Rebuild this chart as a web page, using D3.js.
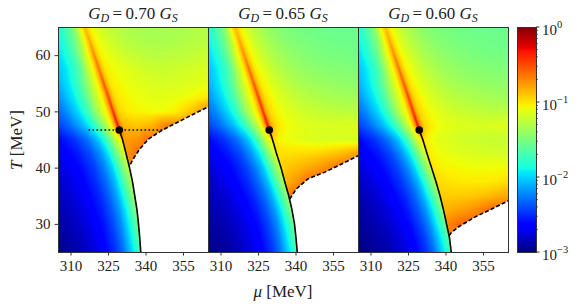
<!DOCTYPE html>
<html><head><meta charset="utf-8">
<script src="https://cdn.jsdelivr.net/npm/d3@7"></script>
<style>body{margin:0;background:#fff} svg{display:block}</style>
</head><body>
<svg id="c" width="580" height="308"></svg>
<script>
// ---------------- DATA ----------------
const panelTitles = ["0.70", "0.65", "0.60"];
const muTicks = [310, 325, 340, 355];
const tTicks = [30, 40, 50, 60];
const cbarExponents = [0, -1, -2, -3];

// critical end point (mu, T) per panel
const cepPoints = [[329.5, 46.7], [329.5, 46.7], [329.5, 46.7]];
// crossover (ridge) line above the CEP, shared (mu, T)
const crossoverLine = [[329.5, 46.7], [328.9, 47.5], [327.0, 50], [325.2, 52.5], [323.3, 55], [321.4, 57.5], [319.5, 60], [317.7, 62.5], [315.8, 65]];
// first-order line (solid) per panel (mu, T)
const firstOrder1 = [[329.5, 46.7], [330.8, 45], [332.2, 42.5], [333.6, 40], [334.8, 37.5], [335.7, 35], [336.6, 32.5], [337.2, 30], [337.7, 27.5], [338.1, 25]];
const firstOrder2 = [[329.5, 46.7], [330.8, 45], [332.4, 42.5], [334.2, 40], [335.7, 37.5], [337.3, 35], [338.6, 32.5], [339.6, 30], [340.2, 27.5], [340.7, 25]];
const firstOrder3 = [[329.5, 46.7], [330.9, 45], [332.6, 42.5], [334.4, 40], [336.2, 37.5], [337.8, 35], [339.2, 32.5], [340.4, 30], [341.6, 27.5], [342.3, 25]];
// spinodal (dashed) per panel (mu, T)
const spinodal1 = [[334.0, 40.6], [335.0, 41.5], [337.7, 43.3], [341.0, 45.0], [345.0, 46.2], [349.0, 47.2], [358.3, 49.3], [365.0, 50.8]];
const spinodal2 = [[337.7, 34.4], [339.0, 35.3], [340.3, 36.2], [345.0, 38.0], [351.7, 39.2], [358.3, 40.6], [365.0, 42.1]];
const spinodal3 = [[341.4, 27.9], [342.5, 28.5], [345.0, 29.4], [351.7, 31.2], [358.3, 32.6], [365.0, 34.1]];
// dotted horizontal guide in the first panel (mu, T)
const dottedGuide1 = [[317.2, 46.7], [347.5, 46.7]];

// heat map: log10 of the plotted quantity, sampled on rows of T and
// columns of mu measured from the transition line (solid / crossover)
const gridT = [25, 27.5, 30, 32.5, 35, 37.5, 40, 42.5, 45, 47.5, 50, 52.5, 55, 57.5, 60, 62.5, 65];
const leftOffsets = [-40, -32, -25, -19, -14, -10, -7, -4.5, -2.5, -1, 0];
const rightOffsets = [0, 1, 2.5, 4.5, 7, 10, 14, 19, 25, 32, 40, 50];
const leftLog = [
  [-3.0, -2.95, -2.88, -2.77, -2.64, -2.48, -2.3, -2.08, -1.9, -1.77, -1.7],
  [-2.99, -2.93, -2.86, -2.74, -2.61, -2.44, -2.26, -2.03, -1.84, -1.7, -1.63],
  [-2.97, -2.91, -2.83, -2.71, -2.58, -2.4, -2.22, -1.98, -1.78, -1.62, -1.54],
  [-2.95, -2.89, -2.8, -2.68, -2.54, -2.36, -2.17, -1.93, -1.71, -1.54, -1.45],
  [-2.93, -2.87, -2.77, -2.65, -2.51, -2.32, -2.12, -1.87, -1.64, -1.46, -1.38],
  [-2.91, -2.84, -2.74, -2.62, -2.47, -2.28, -2.07, -1.8, -1.57, -1.39, -1.3],
  [-2.88, -2.8, -2.71, -2.59, -2.44, -2.24, -2.02, -1.73, -1.49, -1.31, -1.22],
  [-2.85, -2.76, -2.67, -2.55, -2.39, -2.18, -1.94, -1.64, -1.39, -1.2, -1.12],
  [-2.81, -2.71, -2.61, -2.47, -2.29, -2.06, -1.8, -1.5, -1.22, -1.05, -0.95],
  [-2.75, -2.62, -2.48, -2.3, -2.08, -1.83, -1.56, -1.3, -1.05, -0.75, -0.3],
  [-2.7, -2.56, -2.4, -2.22, -1.98, -1.72, -1.42, -1.2, -1.02, -0.78, -0.4],
  [-2.65, -2.5, -2.34, -2.16, -1.94, -1.7, -1.42, -1.2, -1.03, -0.8, -0.47],
  [-2.6, -2.45, -2.3, -2.14, -1.94, -1.72, -1.46, -1.22, -1.05, -0.83, -0.55],
  [-2.6, -2.45, -2.3, -2.14, -1.98, -1.8, -1.58, -1.26, -1.07, -0.86, -0.62],
  [-2.55, -2.42, -2.28, -2.12, -1.97, -1.8, -1.6, -1.32, -1.09, -0.9, -0.7],
  [-2.5, -2.4, -2.26, -2.1, -1.96, -1.8, -1.62, -1.42, -1.13, -0.94, -0.8],
  [-2.45, -2.38, -2.24, -2.08, -1.94, -1.8, -1.64, -1.47, -1.17, -0.97, -0.88]
];
const N = null;
const rightLog1 = [
  [N, N, N, N, N, N, N, N, N, N, N, N],
  [N, N, N, N, N, N, N, N, N, N, N, N],
  [N, N, N, N, N, N, N, N, N, N, N, N],
  [N, N, N, N, N, N, N, N, N, N, N, N],
  [N, N, N, N, N, N, N, N, N, N, N, N],
  [N, N, N, N, N, N, N, N, N, N, N, N],
  [N, N, N, N, N, N, N, N, N, N, N, N],
  [-0.75, -0.72, -0.68, -0.62, N, N, N, N, N, N, N, N],
  [-0.8, -0.78, -0.77, -0.75, -0.72, -0.62, N, N, N, N, N, N],
  [-0.3, -0.72, -0.86, -0.88, -0.9, -0.88, -0.84, -0.68, N, N, N, N],
  [-0.4, -0.78, -0.95, -1.0, -1.03, -1.05, -1.07, -1.08, -1.04, -0.88, -0.65, -0.62],
  [-0.47, -0.8, -0.97, -1.02, -1.05, -1.08, -1.1, -1.12, -1.12, -1.08, -1.0, -0.95],
  [-0.55, -0.83, -0.99, -1.04, -1.07, -1.1, -1.13, -1.16, -1.17, -1.16, -1.12, -1.1],
  [-0.62, -0.86, -1.01, -1.05, -1.09, -1.12, -1.16, -1.2, -1.22, -1.2, -1.17, -1.15],
  [-0.7, -0.9, -1.03, -1.08, -1.13, -1.17, -1.22, -1.26, -1.28, -1.27, -1.24, -1.2],
  [-0.8, -0.94, -1.05, -1.11, -1.17, -1.22, -1.27, -1.31, -1.33, -1.33, -1.3, -1.27],
  [-0.88, -0.97, -1.07, -1.14, -1.2, -1.26, -1.3, -1.34, -1.36, -1.36, -1.33, -1.3]
];
const rightLog2 = [
  [N, N, N, N, N, N, N, N, N, N, N, N],
  [N, N, N, N, N, N, N, N, N, N, N, N],
  [N, N, N, N, N, N, N, N, N, N, N, N],
  [N, N, N, N, N, N, N, N, N, N, N, N],
  [-0.68, -0.64, -0.6, N, N, N, N, N, N, N, N, N],
  [-0.85, -0.83, -0.8, -0.75, -0.69, -0.6, N, N, N, N, N, N],
  [-0.95, -0.93, -0.9, -0.88, -0.86, -0.82, -0.77, -0.7, -0.6, N, N, N],
  [-1.0, -0.99, -0.98, -0.98, -0.98, -0.97, -0.96, -0.93, -0.88, -0.78, -0.64, -0.62],
  [-0.95, -1.0, -1.05, -1.08, -1.1, -1.12, -1.14, -1.16, -1.17, -1.17, -1.16, -1.14],
  [-0.3, -0.72, -0.92, -1.0, -1.06, -1.1, -1.13, -1.15, -1.16, -1.15, -1.13, -1.1],
  [-0.4, -0.78, -0.95, -1.02, -1.09, -1.13, -1.18, -1.22, -1.25, -1.27, -1.28, -1.28],
  [-0.47, -0.8, -0.97, -1.04, -1.11, -1.17, -1.23, -1.28, -1.32, -1.35, -1.37, -1.38],
  [-0.55, -0.83, -0.99, -1.06, -1.14, -1.21, -1.28, -1.34, -1.38, -1.41, -1.43, -1.44],
  [-0.62, -0.86, -1.01, -1.09, -1.17, -1.25, -1.32, -1.38, -1.43, -1.46, -1.48, -1.49],
  [-0.7, -0.9, -1.03, -1.12, -1.2, -1.28, -1.36, -1.42, -1.47, -1.5, -1.52, -1.53],
  [-0.8, -0.94, -1.05, -1.15, -1.24, -1.32, -1.4, -1.46, -1.5, -1.53, -1.55, -1.55],
  [-0.88, -0.97, -1.07, -1.18, -1.27, -1.35, -1.43, -1.49, -1.53, -1.55, -1.56, -1.56]
];
const rightLog3 = [
  [N, N, N, N, N, N, N, N, N, N, N, N],
  [N, N, N, N, N, N, N, N, N, N, N, N],
  [-0.7, -0.68, -0.66, -0.62, -0.58, N, N, N, N, N, N, N],
  [-0.85, -0.84, -0.82, -0.8, -0.78, -0.75, -0.7, -0.6, N, N, N, N],
  [-0.92, -0.92, -0.92, -0.92, -0.92, -0.91, -0.9, -0.87, -0.82, -0.72, -0.62, -0.62],
  [-0.96, -0.97, -0.98, -0.99, -1.0, -1.01, -1.02, -1.02, -1.0, -0.96, -0.92, -0.9],
  [-0.98, -1.0, -1.02, -1.04, -1.05, -1.06, -1.07, -1.08, -1.08, -1.07, -1.05, -1.03],
  [-1.0, -1.02, -1.05, -1.08, -1.1, -1.12, -1.14, -1.16, -1.17, -1.18, -1.18, -1.18],
  [-0.96, -1.01, -1.06, -1.1, -1.13, -1.15, -1.18, -1.2, -1.22, -1.23, -1.23, -1.22],
  [-0.3, -0.72, -0.92, -1.0, -1.06, -1.1, -1.13, -1.15, -1.16, -1.15, -1.13, -1.1],
  [-0.4, -0.78, -0.95, -1.02, -1.09, -1.13, -1.18, -1.22, -1.25, -1.27, -1.28, -1.28],
  [-0.47, -0.8, -0.97, -1.04, -1.11, -1.17, -1.23, -1.28, -1.32, -1.35, -1.37, -1.38],
  [-0.55, -0.83, -0.99, -1.06, -1.14, -1.21, -1.28, -1.34, -1.38, -1.41, -1.43, -1.44],
  [-0.62, -0.86, -1.01, -1.09, -1.17, -1.25, -1.32, -1.38, -1.43, -1.46, -1.48, -1.49],
  [-0.7, -0.9, -1.03, -1.12, -1.2, -1.28, -1.36, -1.42, -1.47, -1.5, -1.52, -1.53],
  [-0.8, -0.94, -1.05, -1.15, -1.24, -1.32, -1.4, -1.46, -1.5, -1.53, -1.55, -1.55],
  [-0.88, -0.97, -1.07, -1.18, -1.27, -1.35, -1.43, -1.49, -1.53, -1.55, -1.56, -1.56]
];

// ---------------- LAYOUT ----------------
const panelLeft = [58, 208, 358], panelTop = 27, panelW = 150, panelH = 225;
const cbar = {x: 517, w: 19};
const FONT = "'Liberation Serif', 'DejaVu Serif', serif";

const x = d3.scaleLinear().domain([305, 365]).range([0, panelW]);
const y = d3.scaleLinear().domain([25, 65]).range([panelH, 0]);

// matplotlib "jet"
const jr = d3.scaleLinear().domain([0, .35, .66, .89, 1]).range([0, 0, 1, 1, .5]).clamp(true);
const jg = d3.scaleLinear().domain([0, .125, .375, .64, .91, 1]).range([0, 0, 1, 1, 0, 0]).clamp(true);
const jb = d3.scaleLinear().domain([0, .11, .34, .65, 1]).range([.5, 1, 1, 0, 0]).clamp(true);
const jet = t => d3.rgb(255 * jr(t), 255 * jg(t), 255 * jb(t)).toString();
const color = d3.scaleSequentialLog(jet).domain([1e-3, 1]).clamp(true);
const tOf = d3.scaleLog().domain([1e-3, 1]).range([0, 1]).clamp(true);

const svg = d3.select("#c");

function fillGrid(grid) {
  // cells without data (white region) borrow the nearest value of their row / the row above
  const out = grid.map(r => r.slice());
  for (let j = out.length - 1; j >= 0; j--) {
    let last = null;
    for (let k = 0; k < out[j].length; k++) {
      if (out[j][k] === null) out[j][k] = last; else last = out[j][k];
    }
    for (let k = 0; k < out[j].length; k++) {
      if (out[j][k] === null) out[j][k] = out[j + 1][k];
    }
  }
  return out;
}
function locate(arr, v) {
  let i = d3.bisectRight(arr, v) - 1;
  i = Math.max(0, Math.min(arr.length - 2, i));
  const f = Math.max(0, Math.min(1, (v - arr[i]) / (arr[i + 1] - arr[i])));
  return [i, f];
}
function sample(grid, offs, T, u) {
  const [j, ft] = locate(gridT, T);
  const [k, fu] = locate(offs, u);
  const a = grid[j][k] + (grid[j][k + 1] - grid[j][k]) * fu;
  const b = grid[j + 1][k] + (grid[j + 1][k + 1] - grid[j + 1][k]) * fu;
  return a + (b - a) * ft;
}

const panels = [
  {title: panelTitles[0], line: firstOrder1, spin: spinodal1, right: rightLog1, cep: cepPoints[0], dotted: dottedGuide1},
  {title: panelTitles[1], line: firstOrder2, spin: spinodal2, right: rightLog2, cep: cepPoints[1], dotted: null},
  {title: panelTitles[2], line: firstOrder3, spin: spinodal3, right: rightLog3, cep: cepPoints[2], dotted: null}
];

const defs = svg.append("defs");
defs.append("clipPath").attr("id", "pclip").append("rect").attr("width", panelW).attr("height", panelH);

const lineGen = d3.line().x(d => x(d[0])).y(d => y(d[1]));

panels.forEach((p, i) => {
  const g = svg.append("g").attr("transform", `translate(${panelLeft[i]},${panelTop})`);
  const refPts = p.line.slice().reverse().concat(crossoverLine.slice(1));
  const refMu = d3.scaleLinear().domain(refPts.map(d => d[1])).range(refPts.map(d => d[0]));
  const rightFilled = fillGrid(p.right);

  const cv = document.createElement("canvas");
  cv.width = panelW; cv.height = panelH;
  const ctx = cv.getContext("2d");
  const img = ctx.createImageData(panelW, panelH);
  for (let py = 0; py < panelH; py++) {
    const T = y.invert(py + 0.5);
    const r0 = refMu(T);
    for (let px = 0; px < panelW; px++) {
      const mu = x.invert(px + 0.5);
      const u = mu - r0;
      const lv = u < 0 ? sample(leftLog, leftOffsets, T, u) : sample(rightFilled, rightOffsets, T, u);
      const t = tOf(Math.pow(10, lv));
      const idx = 4 * (py * panelW + px);
      img.data[idx] = Math.round(255 * jr(t));
      img.data[idx + 1] = Math.round(255 * jg(t));
      img.data[idx + 2] = Math.round(255 * jb(t));
      img.data[idx + 3] = 255;
    }
  }
  ctx.putImageData(img, 0, 0);
  g.append("image").attr("href", cv.toDataURL()).attr("width", panelW).attr("height", panelH)
    .attr("preserveAspectRatio", "none");

  const inner = g.append("g").attr("clip-path", "url(#pclip)");
  const junction = p.spin[0];
  const below = [junction].concat(p.line.filter(d => d[1] < junction[1]));
  const lastSp = p.spin[p.spin.length - 1];
  const poly = below.concat([[below[below.length - 1][0], 20], [370, 20], [370, lastSp[1]]]).concat(p.spin.slice().reverse());
  inner.append("path").attr("d", lineGen(poly) + "Z").attr("fill", "#fff");

  inner.append("path").attr("d", lineGen(p.line)).attr("fill", "none").attr("stroke", "#000").attr("stroke-width", 1.6);
  inner.append("path").attr("d", lineGen(p.spin)).attr("fill", "none").attr("stroke", "#000").attr("stroke-width", 1.6)
    .attr("stroke-dasharray", "4,2.2");
  if (p.dotted) {
    inner.append("path").attr("d", lineGen(p.dotted)).attr("fill", "none").attr("stroke", "#000").attr("stroke-width", 1.6)
      .attr("stroke-dasharray", "1.6,2.4");
  }
  inner.append("circle").attr("cx", x(p.cep[0])).attr("cy", y(p.cep[1])).attr("r", 3.8).attr("fill", "#000");

  g.append("rect").attr("x", 0).attr("y", 0).attr("width", panelW).attr("height", panelH)
    .attr("fill", "none").attr("stroke", "#333").attr("stroke-width", 1).attr("shape-rendering", "crispEdges");

  const ax = g.append("g").attr("transform", `translate(0,${panelH})`)
    .call(d3.axisBottom(x).tickValues(muTicks).tickSize(3.5).tickPadding(5).tickFormat(d3.format("d")));
  ax.select(".domain").remove();
  ax.selectAll("line").attr("stroke", "#333");
  ax.selectAll("text").attr("font-family", FONT).attr("font-size", 15).attr("fill", "#222");

  if (i === 0) {
    const ay = g.append("g").call(d3.axisLeft(y).tickValues(tTicks).tickSize(3.5).tickPadding(4).tickFormat(d3.format("d")));
    ay.select(".domain").remove();
    ay.selectAll("line").attr("stroke", "#333");
    ay.selectAll("text").attr("font-family", FONT).attr("font-size", 15).attr("fill", "#222");
  }

  const tt = svg.append("text").attr("x", panelLeft[i] + panelW / 2).attr("y", 19)
    .attr("text-anchor", "middle").attr("font-family", FONT).attr("font-size", 17).attr("fill", "#222");
  tt.append("tspan").attr("font-style", "italic").text("G");
  tt.append("tspan").attr("font-style", "italic").attr("font-size", 12).attr("dy", 3).text("D");
  tt.append("tspan").attr("dy", -3).text("\u2009=\u2009" + p.title + "\u00a0");
  tt.append("tspan").attr("font-style", "italic").text("G");
  tt.append("tspan").attr("font-style", "italic").attr("font-size", 12).attr("dy", 3).text("S");
});

const yl = svg.append("text").attr("transform", "translate(22,140) rotate(-90)").attr("text-anchor", "middle")
  .attr("font-family", FONT).attr("font-size", 17).attr("fill", "#222");
yl.append("tspan").attr("font-style", "italic").text("T");
yl.append("tspan").text(" [MeV]");
const xl = svg.append("text").attr("x", 283).attr("y", 297).attr("text-anchor", "middle")
  .attr("font-family", FONT).attr("font-size", 17).attr("fill", "#222");
xl.append("tspan").attr("font-style", "italic").text("\u03bc");
xl.append("tspan").text(" [MeV]");

// colorbar
const cy = d3.scaleLog().domain([1e-3, 1]).range([panelTop + panelH, panelTop]);
const cg = svg.append("g");
const steps = d3.range(0, panelH);
cg.selectAll("rect.s").data(steps).join("rect").attr("class", "s")
  .attr("x", cbar.x).attr("width", cbar.w)
  .attr("y", d => panelTop + d).attr("height", 1.2)
  .attr("fill", d => color(cy.invert(panelTop + d + 0.5)));
cg.append("rect").attr("x", cbar.x).attr("y", panelTop).attr("width", cbar.w).attr("height", panelH)
  .attr("fill", "none").attr("stroke", "#333").attr("shape-rendering", "crispEdges");
const minor = [];
[-3, -2, -1].forEach(e => { for (let k = 2; k <= 9; k++) minor.push(k * Math.pow(10, e)); });
cg.selectAll("line.mi").data(minor).join("line").attr("class", "mi")
  .attr("x1", cbar.x + cbar.w).attr("x2", cbar.x + cbar.w + 2)
  .attr("y1", d => cy(d)).attr("y2", d => cy(d)).attr("stroke", "#333").attr("stroke-width", 0.7);
cg.selectAll("line.ma").data(cbarExponents).join("line").attr("class", "ma")
  .attr("x1", cbar.x + cbar.w).attr("x2", cbar.x + cbar.w + 3.5)
  .attr("y1", d => cy(Math.pow(10, d))).attr("y2", d => cy(Math.pow(10, d))).attr("stroke", "#333");
cbarExponents.forEach(e => {
  const t = cg.append("text").attr("x", cbar.x + cbar.w + 6).attr("y", cy(Math.pow(10, e)) + 8)
    .attr("font-family", FONT).attr("font-size", 15).attr("fill", "#222");
  t.append("tspan").text("10");
  t.append("tspan").attr("font-size", 10.5).attr("dy", -7).text(e === 0 ? "0" : "\u2212" + (-e));
});
</script>
</body></html>
